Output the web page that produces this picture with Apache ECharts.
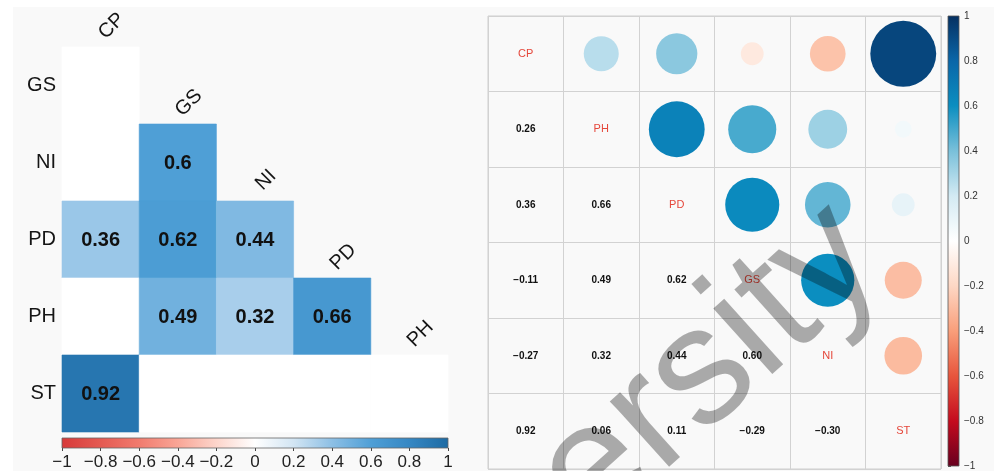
<!DOCTYPE html>
<html><head><meta charset="utf-8">
<script src="https://cdn.jsdelivr.net/npm/echarts@6/dist/echarts.min.js"></script>
<style>html,body{margin:0;padding:0;background:#fff}#c{width:994px;height:471px}</style>
</head><body><div id="c"></div>
<script>
// ---------- data ----------
const leftCols = ['CP', 'GS', 'NI', 'PD', 'PH'];
const leftRows = ['GS', 'NI', 'PD', 'PH', 'ST'];
const leftValues = [
  [-0.11],
  [-0.27, 0.60],
  [0.36, 0.62, 0.44],
  [0.26, 0.49, 0.32, 0.66],
  [0.92, -0.29, -0.30, 0.11, 0.06]
];
const leftSignificant = [
  [0],
  [0, 1],
  [1, 1, 1],
  [0, 1, 1, 1],
  [1, 0, 0, 0, 0]
];
const rightVars = ['CP', 'PH', 'PD', 'GS', 'NI', 'ST'];
const rightCorr = [
  [1, 0.26, 0.36, -0.11, -0.27, 0.92],
  [0.26, 1, 0.66, 0.49, 0.32, 0.06],
  [0.36, 0.66, 1, 0.62, 0.44, 0.11],
  [-0.11, 0.49, 0.62, 1, 0.60, -0.29],
  [-0.27, 0.32, 0.44, 0.60, 1, -0.30],
  [0.92, 0.06, 0.11, -0.29, -0.30, 1]
];
const colorbarMin = -1, colorbarMax = 1, colorbarStep = 0.2;
const watermarkText = 'ersity';

// ---------- styles ----------
const FONT = '"Liberation Sans", Arial, sans-serif';
const leftStops = [[-1,'#d73a3a'],[-0.8,'#e45a52'],[-0.6,'#f17b6e'],[-0.4,'#f9a596'],[-0.2,'#fdd5cb'],[0,'#ffffff'],[0.2,'#d2e5f3'],[0.4,'#8cbfe5'],[0.6,'#4f9fd6'],[0.8,'#3587c3'],[1,'#1e6ba3']];
const rightStops = [[-1,'#67001f'],[-0.8,'#c40b1e'],[-0.6,'#e7553c'],[-0.4,'#f99e7a'],[-0.2,'#fdd7c4'],[0,'#ffffff'],[0.2,'#d3eaf3'],[0.4,'#79c0da'],[0.6,'#0b8ec0'],[0.8,'#0a66a8'],[1,'#053061']];

function hex(c){return [parseInt(c.substr(1,2),16),parseInt(c.substr(3,2),16),parseInt(c.substr(5,2),16)];}
function colorAt(stops, v){
  if (v <= stops[0][0]) return stops[0][1];
  for (let i = 1; i < stops.length; i++) {
    if (v <= stops[i][0]) {
      const a = stops[i-1], b = stops[i];
      const t = (v - a[0]) / (b[0] - a[0]);
      const ca = hex(a[1]), cb = hex(b[1]);
      return 'rgb(' + ca.map((x, k) => Math.round(x + (cb[k] - x) * t)).join(',') + ')';
    }
  }
  return stops[stops.length-1][1];
}
function fmtTick(v){ return (Math.round(v*10)/10).toString().replace('-', '\u2212'); }
function fmtCorr(v){ return v.toFixed(2).replace('-', '\u2212'); }

// ---------- build data ----------
const leftCellData = [];
leftValues.forEach((row, i) => row.forEach((v, j) => leftCellData.push([j, i, v, leftSignificant[i][j]])));
const leftColLabelData = leftCols.map((c, j) => [j, j]);
const circleData = [], numberData = [], diagData = [];
rightCorr.forEach((row, i) => row.forEach((v, j) => {
  if (i < j) circleData.push([j, i, v]);
  else if (i > j) numberData.push([j, i, v]);
  else diagData.push([j, i]);
}));

const chart = echarts.init(document.getElementById('c'), null, {renderer: 'canvas'});

const hiddenCat = (data, inverse, gridIndex) => ({
  type: 'category', data, gridIndex, inverse,
  axisLine: {show: false}, axisTick: {show: false}, axisLabel: {show: false}, splitLine: {show: false}
});

const option = {
  animation: false,
  textStyle: {fontFamily: FONT},
  graphic: [
    {type: 'rect', z: -10, shape: {x: 13, y: 7, width: 981, height: 464}, style: {fill: '#f9f9f9'}},
    {type: 'text', z: 100, x: 709, y: 369, rotation: 42 * Math.PI / 180,
     style: {text: watermarkText, fontSize: 167, fontFamily: FONT, fill: 'rgba(0,0,0,0.32)', align: 'center', verticalAlign: 'middle'}}
  ],
  grid: [
    {left: 62, top: 47, width: 386, height: 385},
    {left: 62, top: 438, width: 386, height: 12},
    {left: 488, top: 16, width: 453, height: 453, show: true, borderColor: '#cfcfcf', borderWidth: 1, backgroundColor: 'transparent'},
    {left: 948, top: 16, width: 11, height: 453}
  ],
  xAxis: [
    hiddenCat(leftCols, false, 0),
    {type: 'value', gridIndex: 1, min: colorbarMin, max: colorbarMax, interval: colorbarStep,
     axisLine: {show: false}, splitLine: {show: false},
     axisTick: {show: true, length: 3, lineStyle: {color: '#444'}},
     axisLabel: {fontSize: 17, color: '#222', margin: 6, formatter: fmtTick}},
    {type: 'category', data: rightVars, gridIndex: 2,
     axisLine: {show: false}, axisTick: {show: false}, axisLabel: {show: false},
     splitLine: {show: true, lineStyle: {color: '#d2d2d2', width: 1}}},
    {type: 'value', gridIndex: 3, min: 0, max: 1, show: false}
  ],
  yAxis: [
    {type: 'category', data: leftRows, gridIndex: 0, inverse: true,
     axisLine: {show: false}, axisTick: {show: false}, splitLine: {show: false},
     axisLabel: {fontSize: 20, color: '#151515', margin: 6}},
    {type: 'value', gridIndex: 1, min: 0, max: 1, show: false},
    {type: 'category', data: rightVars, gridIndex: 2, inverse: true,
     axisLine: {show: false}, axisTick: {show: false}, axisLabel: {show: false},
     splitLine: {show: true, lineStyle: {color: '#d2d2d2', width: 1}}},
    {type: 'value', gridIndex: 3, min: colorbarMin, max: colorbarMax, interval: colorbarStep, position: 'right',
     axisLine: {show: false}, splitLine: {show: false},
     axisTick: {show: true, length: 3, lineStyle: {color: '#555'}},
     axisLabel: {fontSize: 10, color: '#333', margin: 5, formatter: fmtTick}}
  ],
  series: [
    { // left heatmap cells
      type: 'custom', xAxisIndex: 0, yAxisIndex: 0, data: leftCellData,
      renderItem: (p, api) => {
        const c = api.coord([api.value(0), api.value(1)]);
        const s = api.size([1, 1]);
        const v = api.value(2), sig = api.value(3);
        const fill = sig ? colorAt(leftStops, v) : '#ffffff';
        const ch = [{type: 'rect', shape: {x: c[0]-s[0]/2, y: c[1]-s[1]/2, width: s[0], height: s[1]},
                     style: {fill: fill, stroke: fill, lineWidth: 0.6}}];
        if (sig) ch.push({type: 'text', x: c[0], y: c[1] + 1,
          style: {text: String(v), align: 'center', verticalAlign: 'middle', font: 'bold 20px ' + FONT, fill: '#111'}});
        return {type: 'group', children: ch};
      }
    },
    { // left diagonal column labels
      type: 'custom', xAxisIndex: 0, yAxisIndex: 0, data: leftColLabelData,
      renderItem: (p, api) => {
        const c = api.coord([api.value(0), api.value(1)]);
        const s = api.size([1, 1]);
        return {type: 'text', x: c[0] + 11, y: c[1] - s[1]/2 - 21, rotation: Math.PI / 4,
          style: {text: leftCols[p.dataIndex], align: 'center', verticalAlign: 'middle', fontSize: 20, fontFamily: FONT, fill: '#151515'}};
      }
    },
    { // left colorbar
      type: 'custom', xAxisIndex: 1, yAxisIndex: 1, data: [[0, 0]],
      renderItem: (p, api) => {
        const a = api.coord([colorbarMin, 1]), b = api.coord([colorbarMax, 0]);
        return {type: 'rect', shape: {x: a[0], y: a[1], width: b[0]-a[0], height: b[1]-a[1]},
          style: {fill: new echarts.graphic.LinearGradient(0, 0, 1, 0,
            leftStops.map(s => ({offset: (s[0]-colorbarMin)/(colorbarMax-colorbarMin), color: s[1]}))),
            stroke: '#666', lineWidth: 0.8}};
      }
    },
    { // right circles
      type: 'custom', xAxisIndex: 2, yAxisIndex: 2, data: circleData,
      renderItem: (p, api) => {
        const c = api.coord([api.value(0), api.value(1)]);
        const s = api.size([1, 1]);
        const v = api.value(2);
        return {type: 'circle', shape: {cx: c[0], cy: c[1], r: s[0]/2 * 0.91 * Math.sqrt(Math.abs(v))},
          style: {fill: colorAt(rightStops, v)}};
      }
    },
    { // right numbers
      type: 'custom', xAxisIndex: 2, yAxisIndex: 2, data: numberData,
      renderItem: (p, api) => {
        const c = api.coord([api.value(0), api.value(1)]);
        return {type: 'text', x: c[0], y: c[1],
          style: {text: fmtCorr(api.value(2)), align: 'center', verticalAlign: 'middle', font: 'bold 10px ' + FONT, fill: '#111'}};
      }
    },
    { // right diagonal names
      type: 'custom', xAxisIndex: 2, yAxisIndex: 2, data: diagData,
      renderItem: (p, api) => {
        const c = api.coord([api.value(0), api.value(1)]);
        return {type: 'text', x: c[0], y: c[1],
          style: {text: rightVars[p.dataIndex], align: 'center', verticalAlign: 'middle', fontSize: 11, fontFamily: FONT, fill: '#e5473b'}};
      }
    },
    { // right colorbar
      type: 'custom', xAxisIndex: 3, yAxisIndex: 3, data: [[0, 0]],
      renderItem: (p, api) => {
        const a = api.coord([0, colorbarMax]), b = api.coord([1, colorbarMin]);
        return {type: 'rect', shape: {x: a[0], y: a[1], width: b[0]-a[0], height: b[1]-a[1]},
          style: {fill: new echarts.graphic.LinearGradient(0, 0, 0, 1,
            rightStops.map(s => ({offset: (colorbarMax - s[0])/(colorbarMax-colorbarMin), color: s[1]}))),
            stroke: '#555', lineWidth: 0.8}};
      }
    }
  ]
};
chart.setOption(option);
</script></body></html>
